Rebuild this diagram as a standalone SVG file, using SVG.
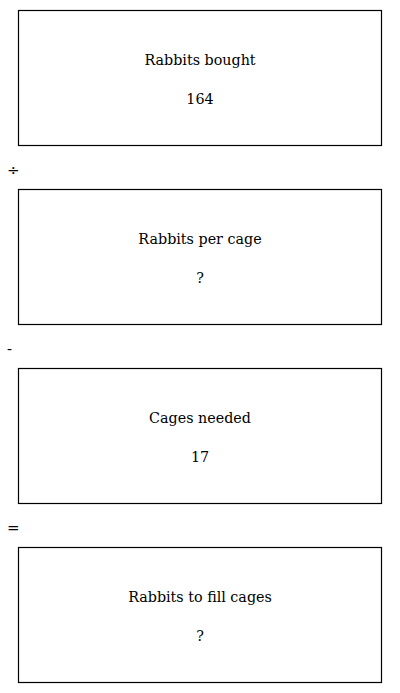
<svg xmlns="http://www.w3.org/2000/svg" width="400" height="693" viewBox="0 0 400 693">
<style>
.box{fill:#fff;stroke:#000;stroke-width:1.2}
text{font-family:"DejaVu Serif","Liberation Serif",serif;font-size:14.3px;fill:#000;text-anchor:middle}
.op{text-anchor:start;font-size:15px}
</style>
<rect width="400" height="693" fill="#fff"/>
<g id="node1"><rect class="box" x="18.5" y="10.5" width="363" height="135"/><text x="200" y="65">Rabbits bought</text><text x="200" y="104">164</text></g>
<g id="node2"><rect class="box" x="18.5" y="189.5" width="363" height="135"/><text x="200" y="244">Rabbits per cage</text><text x="200" y="283">?</text></g>
<g id="node3"><rect class="box" x="18.5" y="368.5" width="363" height="135"/><text x="200" y="423">Cages needed</text><text x="200" y="462">17</text></g>
<g id="node4"><rect class="box" x="18.5" y="547.5" width="363" height="135"/><text x="200" y="602">Rabbits to fill cages</text><text x="200" y="641">?</text></g>
<g id="connectors">
<text class="op" x="7" y="175">÷</text>
<text class="op" x="7" y="354">-</text>
<text class="op" x="7" y="533">=</text>
</g>
</svg>
